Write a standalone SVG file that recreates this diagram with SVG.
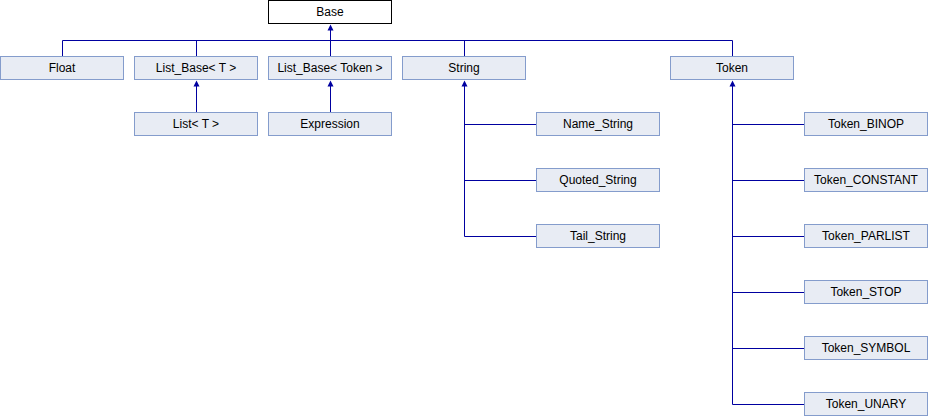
<svg xmlns="http://www.w3.org/2000/svg" width="928" height="416" viewBox="0 0 928 416">
<style>
.n rect{fill:#e8ecf4;stroke:#849ccc;stroke-width:1}
.root rect{fill:#ffffff;stroke:#000000;stroke-width:1}
text{font-family:"Liberation Sans",Arial,sans-serif;font-size:12px;fill:#000000;text-anchor:middle}
.e line,.e path{stroke:#0000a0;stroke-width:1;fill:none}
.e polygon{fill:#0000a0;stroke:none}
</style>
<rect x="0" y="0" width="928" height="416" fill="#ffffff"/>
<g id="connectors" class="e">
  <line x1="330.5" y1="26" x2="330.5" y2="56.5"/>
  <polygon points="330.5,24.5 327.5,30.5 333.5,30.5"/>
  <line x1="62.5" y1="40.5" x2="732.5" y2="40.5"/>
  <line x1="62.5" y1="40.5" x2="62.5" y2="56.5"/>
  <line x1="196.5" y1="40.5" x2="196.5" y2="56.5"/>
  <line x1="464.5" y1="40.5" x2="464.5" y2="56.5"/>
  <line x1="732.5" y1="40.5" x2="732.5" y2="56.5"/>
  <line x1="196.5" y1="82" x2="196.5" y2="112.5"/>
  <polygon points="196.5,80.5 193.5,86.5 199.5,86.5"/>
  <line x1="330.5" y1="82" x2="330.5" y2="112.5"/>
  <polygon points="330.5,80.5 327.5,86.5 333.5,86.5"/>
  <line x1="464.5" y1="82" x2="464.5" y2="236.5"/>
  <polygon points="464.5,80.5 461.5,86.5 467.5,86.5"/>
  <line x1="464.5" y1="124.5" x2="536.5" y2="124.5"/>
  <line x1="464.5" y1="180.5" x2="536.5" y2="180.5"/>
  <line x1="464.5" y1="236.5" x2="536.5" y2="236.5"/>
  <line x1="732.5" y1="82" x2="732.5" y2="404.5"/>
  <polygon points="732.5,80.5 729.5,86.5 735.5,86.5"/>
  <line x1="732.5" y1="124.5" x2="804.5" y2="124.5"/>
  <line x1="732.5" y1="180.5" x2="804.5" y2="180.5"/>
  <line x1="732.5" y1="236.5" x2="804.5" y2="236.5"/>
  <line x1="732.5" y1="292.5" x2="804.5" y2="292.5"/>
  <line x1="732.5" y1="348.5" x2="804.5" y2="348.5"/>
  <line x1="732.5" y1="404.5" x2="804.5" y2="404.5"/>
</g>
<g id="Base" class="root"><rect x="268.5" y="0.5" width="123" height="23"/><text x="330" y="16">Base</text></g>
<g id="Float" class="n"><rect x="0.5" y="56.5" width="123" height="23"/><text x="62" y="72">Float</text></g>
<g id="List_Base_T" class="n"><rect x="134.5" y="56.5" width="123" height="23"/><text x="196" y="72">List_Base&lt; T &gt;</text></g>
<g id="List_Base_Token" class="n"><rect x="268.5" y="56.5" width="123" height="23"/><text x="330" y="72">List_Base&lt; Token &gt;</text></g>
<g id="String" class="n"><rect x="402.5" y="56.5" width="123" height="23"/><text x="464" y="72">String</text></g>
<g id="Token" class="n"><rect x="670.5" y="56.5" width="123" height="23"/><text x="732" y="72">Token</text></g>
<g id="List_T" class="n"><rect x="134.5" y="112.5" width="123" height="23"/><text x="196" y="128">List&lt; T &gt;</text></g>
<g id="Expression" class="n"><rect x="268.5" y="112.5" width="123" height="23"/><text x="330" y="128">Expression</text></g>
<g id="Name_String" class="n"><rect x="536.5" y="112.5" width="123" height="23"/><text x="598" y="128">Name_String</text></g>
<g id="Quoted_String" class="n"><rect x="536.5" y="168.5" width="123" height="23"/><text x="598" y="184">Quoted_String</text></g>
<g id="Tail_String" class="n"><rect x="536.5" y="224.5" width="123" height="23"/><text x="598" y="240">Tail_String</text></g>
<g id="Token_BINOP" class="n"><rect x="804.5" y="112.5" width="123" height="23"/><text x="866" y="128">Token_BINOP</text></g>
<g id="Token_CONSTANT" class="n"><rect x="804.5" y="168.5" width="123" height="23"/><text x="866" y="184">Token_CONSTANT</text></g>
<g id="Token_PARLIST" class="n"><rect x="804.5" y="224.5" width="123" height="23"/><text x="866" y="240">Token_PARLIST</text></g>
<g id="Token_STOP" class="n"><rect x="804.5" y="280.5" width="123" height="23"/><text x="866" y="296">Token_STOP</text></g>
<g id="Token_SYMBOL" class="n"><rect x="804.5" y="336.5" width="123" height="23"/><text x="866" y="352">Token_SYMBOL</text></g>
<g id="Token_UNARY" class="n"><rect x="804.5" y="392.5" width="123" height="23"/><text x="866" y="408">Token_UNARY</text></g>
</svg>
